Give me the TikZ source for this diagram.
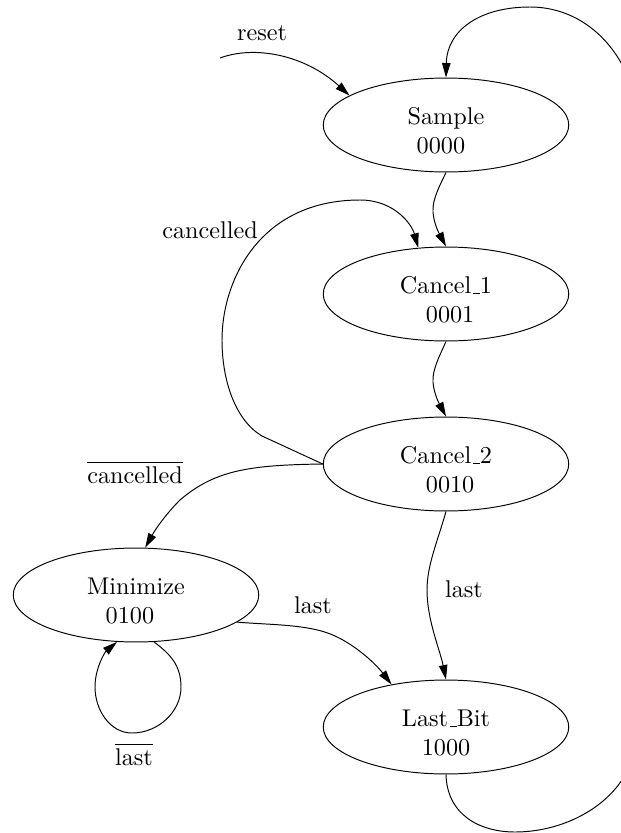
\documentclass[tikz,border=0pt]{standalone}
\usetikzlibrary{shapes.geometric,arrows.meta}

% two-line state label, lowered a little inside its ellipse
\newcommand{\statelabel}[2]{\raisebox{-3.5pt}[\height][\depth]{\begin{tabular}{@{}c@{}}#1\\#2\end{tabular}}}
% short underscore resting on the baseline
\newcommand{\usc}{\leavevmode\kern.06em\vbox{\hrule width.3em}}

\begin{document}
\begin{tikzpicture}[x=0.413pt,y=-0.413pt,
  state/.style={draw, ellipse, line width=0.4pt, inner sep=0pt,
                minimum width=101.4pt, minimum height=38.8pt},
  edge/.style={draw, line width=0.4pt, -{Triangle[length=6pt,width=3.5pt]}},
  cond/.style={anchor=base, inner sep=0pt}]
\useasboundingbox (0,0) rectangle (621,833);
\clip (0,0) rectangle (621,833);

% states
\node[state] (sample)   at (446,125) {\statelabel{Sample}{\hspace*{-4.2pt}0000}};
\node[state] (cancel1)  at (446,294) {\statelabel{Cancel\usc 1}{0001\hspace*{-3.4pt}}};
\node[state] (cancel2)  at (446,464) {\statelabel{Cancel\usc 2}{0010\hspace*{-3.4pt}}};
\node[state] (minimize) at (136,595) {\statelabel{Minimize}{\hspace*{-5pt}0100}};
\node[state] (lastbit)  at (446,727) {\statelabel{Last\usc Bit}{1000}};

% reset entry
\coordinate (start) at (220,58);
\draw[edge] (start) .. controls (255,45) and (305,55) .. (sample.163);
\node[cond] (lreset) at (262,40) {reset};

% main chain
\draw[edge] (sample.south) .. controls (440,185) and (432,200) .. (433,212)
            .. controls (434,225) and (440,235) .. (cancel1.north);
\draw[edge] (cancel1.south) .. controls (440,355) and (432,370) .. (433,382)
            .. controls (434,395) and (440,405) .. (cancel2.north);

% cancelled: back to Cancel_1
\draw[edge] (cancel2.west) -- (262,436)
            .. controls (235,420) and (222,380) .. (222,340)
            .. controls (222,280) and (260,200) .. (360,200)
            .. controls (395,200) and (412,225) .. (cancel1.121);
\node[cond] (lcanc) at (210,238) {cancelled};

% not cancelled: on to Minimize
\draw[edge] (cancel2.west) .. controls (250,465) and (215,470) .. (180,500)
            .. controls (165,515) and (155,530) .. (minimize.79);
\node[cond] (lncanc) at (135,483) {$\overline{\mbox{cancelled}}$};

% last from Cancel_2
\draw[edge] (cancel2.south) .. controls (438,540) and (427,565) .. (427,590)
            .. controls (427,620) and (440,650) .. (lastbit.north);
\node[cond] (llast1) at (464,597) {last};

% last from Minimize
\draw[edge] (minimize.-15) .. controls (270,625) and (310,624) .. (335,636)
            .. controls (355,645) and (375,663) .. (lastbit.142);
\node[cond] (llast2) at (313,613) {last};

% Minimize self loop
\draw[edge] (minimize.-69) .. controls (170,654) and (181,665) .. (181,687)
            .. controls (181,712) and (158,733) .. (132,733)
            .. controls (110,733) and (95,710) .. (95,687)
            .. controls (95,668) and (105,652) .. (minimize.-112);
\node[cond] (lnlast) at (134,765) {$\overline{\mbox{last}}$};

% Last_Bit back to Sample, running round the right edge
\draw[edge] (lastbit.south) .. controls (447,815) and (480,832) .. (515,832)
            .. controls (560,832) and (605,810) .. (625,775)
            .. controls (660,715) and (660,130) .. (625,70)
            .. controls (605,30) and (570,7) .. (530,7)
            .. controls (480,7) and (447,30) .. (sample.north);
\end{tikzpicture}
\end{document}
